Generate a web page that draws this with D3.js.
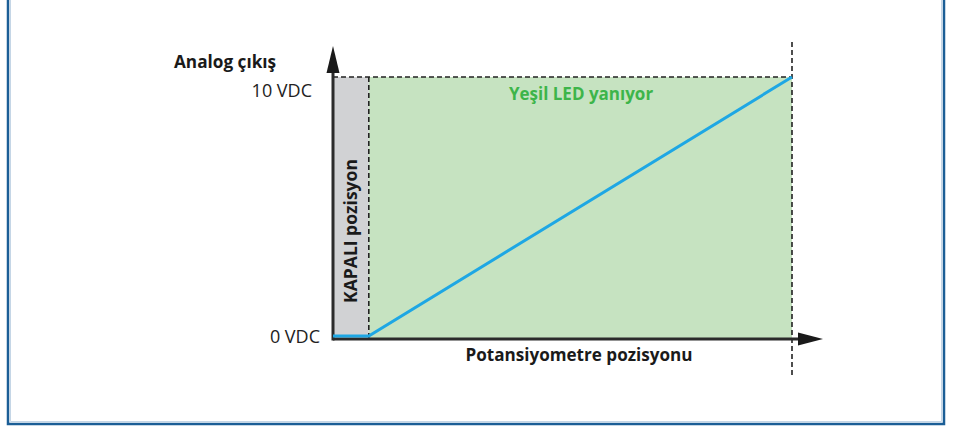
<!DOCTYPE html>
<html>
<head>
<meta charset="utf-8">
<script src="https://cdn.jsdelivr.net/npm/d3@7"></script>
<style>
  html, body { margin: 0; padding: 0; background: #fff; }
  svg { display: block; font-family: "Open Sans", sans-serif; }
</style>
</head>
<body>
<svg id="chart" width="956" height="428"></svg>
<script>
// potentiometer position (%) vs analog output (VDC)
const outPos = [0, 7.8, 100];
const outVolts = [0, 0, 10];
const offEnd = 7.8;          // end of the KAPALI (off) zone
const yTicks = [0, 10];
const yTickLabels = ["0 VDC", "10 VDC"];
const yTitle = "Analog çıkış";
const xTitle = "Potansiyometre pozisyonu";
const offLabel = "KAPALI pozisyon";
const onLabel = "Yeşil LED yanıyor";

const svg = d3.select("#chart");

// frame
svg.append("path")
   .attr("d", "M8,-5 L8,424 L944,424 L944,-5")
   .attr("fill", "none")
   .attr("stroke", "#1b5e96")
   .attr("stroke-width", 2.5);
svg.append("path")
   .attr("d", "M10.5,-5 L10.5,421.5 L941.5,421.5 L941.5,-5")
   .attr("fill", "none")
   .attr("stroke", "#c5d6e6")
   .attr("stroke-width", 1);

let x = d3.scaleLinear().domain([0, 100]).range([333, 792]);
let y = d3.scaleLinear().domain([0, 10]).range([336, 77]);
const axisY = y(0) + 3;

// zones
svg.append("rect")
   .attr("x", x(0)).attr("y", y(10))
   .attr("width", x(offEnd) - x(0)).attr("height", axisY - y(10))
   .attr("fill", "#d1d2d4");
svg.append("rect")
   .attr("x", x(offEnd)).attr("y", y(10))
   .attr("width", x(100) - x(offEnd)).attr("height", axisY - y(10))
   .attr("fill", "#c6e3c1");

// dashed guides
let g = svg.append("g")
   .attr("stroke", "#222")
   .attr("stroke-width", 1.6)
   .attr("stroke-dasharray", "5,3")
   .attr("fill", "none");
g.append("line").attr("x1", x(0)).attr("x2", x(100)).attr("y1", y(10)).attr("y2", y(10));
g.append("line").attr("x1", x(offEnd)).attr("x2", x(offEnd)).attr("y1", y(10)).attr("y2", axisY);
g.append("line").attr("x1", x(100)).attr("x2", x(100)).attr("y1", 42).attr("y2", 376);

// axes
svg.append("line")
   .attr("x1", x(0)).attr("x2", 802)
   .attr("y1", axisY).attr("y2", axisY)
   .attr("stroke", "#2b2b2b").attr("stroke-width", 3);
svg.append("line")
   .attr("x1", x(0)).attr("x2", x(0))
   .attr("y1", axisY + 1.5).attr("y2", 68)
   .attr("stroke", "#2b2b2b").attr("stroke-width", 3);
svg.append("path")
   .attr("d", `M${x(0)},46 L${x(0) - 6.5},73 L${x(0) + 6.5},73 Z`)
   .attr("fill", "#1a1a1a");
svg.append("path")
   .attr("d", `M823,${axisY} L798,${axisY - 6.5} L798,${axisY + 6.5} Z`)
   .attr("fill", "#1a1a1a");

// output line
let line = d3.line()
  .x(function(d, i) { return x(outPos[i]); })
  .y(function(d) { return y(d); });
svg.append("path")
   .attr("d", line(outVolts))
   .attr("fill", "none")
   .attr("stroke", "#1ea7e4")
   .attr("stroke-width", 3);

// tick labels
svg.selectAll(".ytick")
   .data(yTicks)
   .enter().append("text")
   .attr("class", "ytick")
   .attr("x", (d, i) => i == 0 ? 320 : 312)
   .attr("y", d => d == 0 ? y(d) + 7 : y(d) + 20)
   .attr("text-anchor", "end")
   .attr("font-size", 18)
   .attr("fill", "#222")
   .text((d, i) => yTickLabels[i]);

// titles
svg.append("text")
   .attr("x", 174).attr("y", 68)
   .attr("font-size", 17.2).attr("font-weight", "bold")
   .attr("fill", "#1a1a1a")
   .text(yTitle);
svg.append("text")
   .attr("x", 579).attr("y", 361)
   .attr("text-anchor", "middle")
   .attr("font-size", 17.1).attr("font-weight", "bold")
   .attr("fill", "#1a1a1a")
   .text(xTitle);
svg.append("text")
   .attr("x", 581).attr("y", 100)
   .attr("text-anchor", "middle")
   .attr("font-size", 17).attr("font-weight", "bold")
   .attr("fill", "#3db54a")
   .text(onLabel);
svg.append("text")
   .attr("transform", `translate(${(x(0) + x(offEnd)) / 2 + 6},231) rotate(-90)`)
   .attr("text-anchor", "middle")
   .attr("font-size", 17.5).attr("font-weight", "bold")
   .attr("fill", "#1a1a1a")
   .text(offLabel);
</script>
</body>
</html>
